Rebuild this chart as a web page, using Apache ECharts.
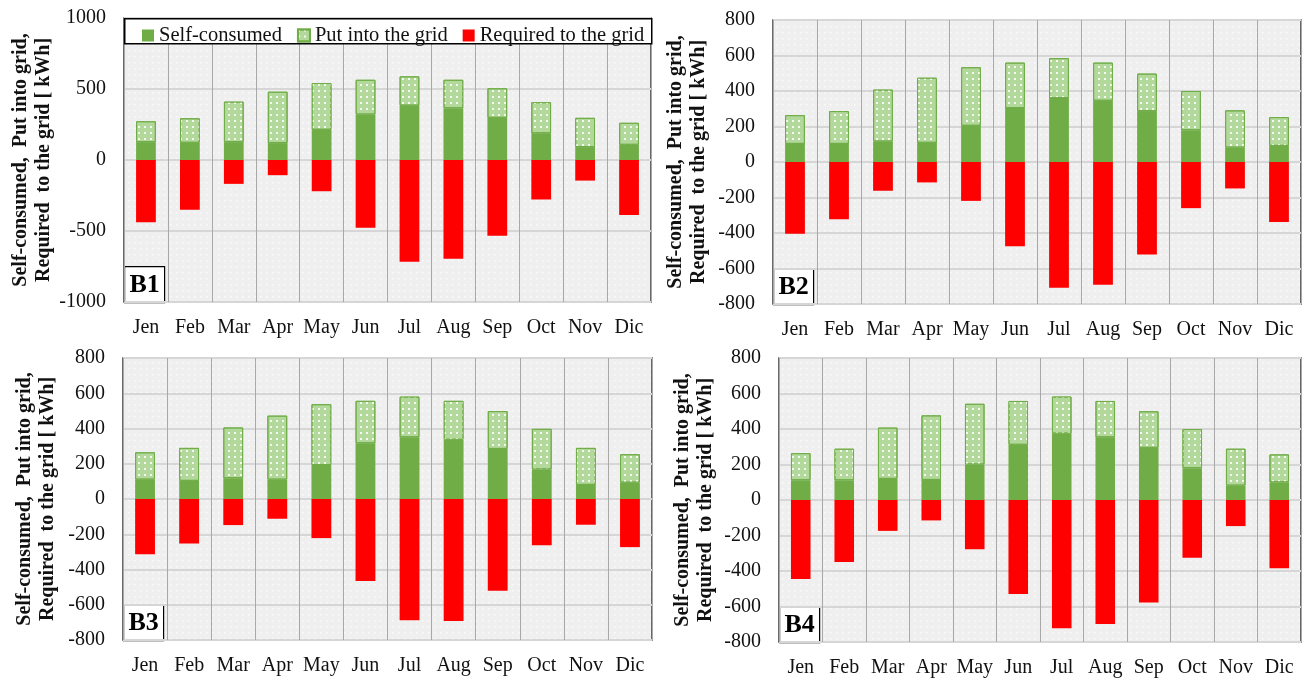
<!DOCTYPE html>
<html>
<head>
<meta charset="utf-8">
<script src="https://cdn.jsdelivr.net/npm/echarts@6/dist/echarts.min.js"></script>
<style>
  html, body { margin: 0; padding: 0; background: #fff; }
  #main { width: 1304px; height: 681px; }
</style>
</head>
<body>
<div id="main"></div>
<script>
// months on x axis
const months = ["Jen", "Feb", "Mar", "Apr", "May", "Jun", "Jul", "Aug", "Sep", "Oct", "Nov", "Dic"];

// B1
const selfB1 = [126, 121, 126, 119, 213, 320, 383, 364, 297, 189, 91, 107];
const putB1 = [147, 173, 285, 362, 329, 245, 206, 201, 208, 218, 206, 155];
const reqB1 = [-439, -350, -168, -107, -220, -477, -717, -696, -533, -278, -145, -388];
// B2
const selfB2 = [102, 102, 115, 108, 204, 304, 360, 345, 287, 179, 81, 91];
const putB2 = [162, 185, 293, 367, 330, 256, 225, 215, 211, 221, 210, 162];
const reqB2 = [-404, -323, -162, -115, -219, -474, -709, -691, -521, -260, -149, -338];
// B3
const selfB3 = [110, 103, 118, 110, 193, 316, 350, 336, 284, 168, 80, 93];
const putB3 = [155, 187, 288, 363, 345, 241, 231, 221, 215, 230, 210, 161];
const reqB3 = [-314, -252, -148, -112, -222, -465, -688, -692, -520, -262, -146, -273];
// B4
const selfB4 = [111, 111, 119, 113, 200, 311, 374, 353, 294, 179, 81, 100];
const putB4 = [153, 178, 289, 364, 342, 247, 209, 205, 206, 221, 208, 157];
const reqB4 = [-445, -349, -174, -115, -277, -530, -723, -698, -577, -326, -147, -385];

const panelNames = ["B1", "B2", "B3", "B4"];
const yTitle = "Self-consumed,  Put into grid,\nRequired  to the grid [ kWh]";

const FONT = "Liberation Serif";

// dotted grey background like the original plot area
function dotPattern() {
  let c = document.createElement("canvas");
  c.width = 6;
  c.height = 6;
  let ctx = c.getContext("2d");
  ctx.fillStyle = "#efefef";
  ctx.fillRect(0, 0, 6, 6);
  ctx.fillStyle = "#fbfbfb";
  ctx.fillRect(2, 2, 1.5, 1.5);
  return { image: c, repeat: "repeat" };
}
const bgPattern = dotPattern();

// grid boxes (px) : left, top, width, height
const boxes = [
  [124, 18, 527, 284],
  [773, 20, 528, 284],
  [123, 358, 529, 282],
  [779, 358, 522, 284],
];
const nameGaps = [69, 63, 64, 62];
const yRanges = [
  [-1000, 1000, 500],
  [-800, 800, 200],
  [-800, 800, 200],
  [-800, 800, 200],
];
const dataSets = [
  [selfB1, putB1, reqB1],
  [selfB2, putB2, reqB2],
  [selfB3, putB3, reqB3],
  [selfB4, putB4, reqB4],
];

let grid = [], xAxis = [], yAxis = [], series = [], graphic = [];

boxes.forEach((b, i) => {
  grid.push({
    left: b[0], top: b[1], width: b[2], height: b[3],
    show: true,
    backgroundColor: bgPattern,
    borderColor: "#3a3a3a",
    borderWidth: 1.5,
  });
  xAxis.push({
    type: "category",
    gridIndex: i,
    data: months,
    axisTick: { show: false },
    axisLine: { show: false },
    axisLabel: { interval: 0, hideOverlap: false, color: "#111", fontFamily: FONT, fontSize: 20, margin: 16 },
    splitLine: { show: true, interval: 0, lineStyle: { color: "#a8a8a8", width: 1 } },
  });
  yAxis.push({
    type: "value",
    gridIndex: i,
    min: yRanges[i][0],
    max: yRanges[i][1],
    interval: yRanges[i][2],
    axisLine: { show: false },
    axisTick: { show: false },
    axisLabel: {
      color: "#111", fontFamily: FONT, fontSize: 20, margin: 18,
      formatter: (v) => String(v),
    },
    splitLine: { show: true, lineStyle: { color: "#d6d6d6", width: 2 } },
    name: yTitle,
    nameLocation: "middle",
    nameRotate: 90,
    nameGap: nameGaps[i],
    nameTextStyle: { fontFamily: FONT, fontSize: 20, fontWeight: "bold", color: "#111", lineHeight: 23 },
  });

  let [selfV, putV, reqV] = dataSets[i];
  series.push({
    name: "Self-consumed",
    type: "bar",
    xAxisIndex: i, yAxisIndex: i,
    stack: "s" + i,
    barWidth: "45%",
    data: selfV,
    itemStyle: { color: "#70ad47" },
  });
  series.push({
    name: "Put into the grid",
    type: "bar",
    xAxisIndex: i, yAxisIndex: i,
    stack: "s" + i,
    barWidth: "45%",
    data: putV,
    itemStyle: {
      color: "#b3d89c",
      borderColor: "#70ad47",
      borderWidth: 1,
      decal: {
        symbol: "rect",
        symbolSize: 1,
        color: "rgba(255,255,255,0.85)",
        dashArrayX: [1.5, 3.5],
        dashArrayY: [1.5, 3.5],
      },
    },
  });
  series.push({
    name: "Required to the grid",
    type: "bar",
    xAxisIndex: i, yAxisIndex: i,
    stack: "s" + i,
    barWidth: "45%",
    data: reqV,
    itemStyle: { color: "#ff0000" },
  });

  // panel tag in the lower left corner
  graphic.push({
    type: "group",
    left: b[0],
    top: b[1] + b[3] - 36,
    z: 100,
    children: [
      { type: "rect", shape: { x: 0, y: 0, width: 40, height: 36 }, style: { fill: "#fff", stroke: "#000", lineWidth: 1.2 } },
      {
        type: "text", x: 20, y: 19,
        style: { text: panelNames[i], fontFamily: FONT, fontSize: 26, fontWeight: "bold", fill: "#000", align: "center", verticalAlign: "middle" },
      },
    ],
  });
});

// white legend box on top of B1
graphic.push({
  type: "rect",
  left: 124,
  top: 18,
  z: 50,
  shape: { x: 0, y: 0, width: 527, height: 25 },
  style: { fill: "#fff", stroke: "#000", lineWidth: 1.5 },
});

let myChart = echarts.init(document.getElementById("main"));
let option = {
  animation: false,
  backgroundColor: "#fff",
  grid,
  xAxis,
  yAxis,
  series,
  graphic,
  legend: {
    z: 60,
    left: 137,
    top: 20,
    itemWidth: 12,
    itemHeight: 12,
    itemGap: 15,
    icon: "rect",
    data: ["Self-consumed", "Put into the grid", "Required to the grid"],
    textStyle: { fontFamily: FONT, fontSize: 20.5, color: "#111" },
  },
};
myChart.setOption(option);
</script>
</body>
</html>
